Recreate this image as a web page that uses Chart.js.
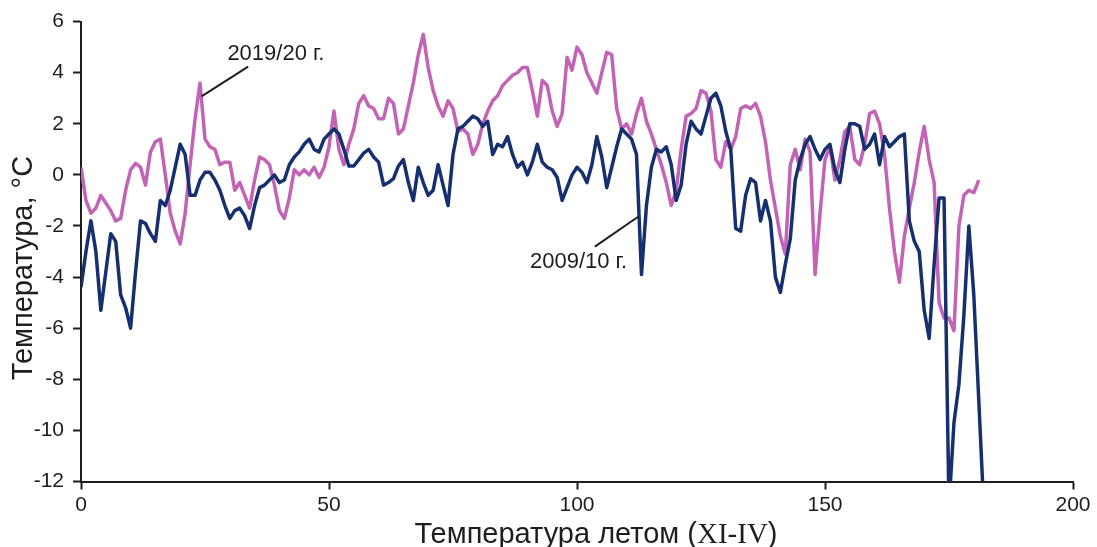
<!DOCTYPE html>
<html>
<head>
<meta charset="utf-8">
<script src="https://cdn.jsdelivr.net/npm/chart.js@4.4.1/dist/chart.umd.min.js"></script>
<style>
  html, body { margin: 0; padding: 0; background: #ffffff; }
  #wrap { width: 1097px; height: 547px; }
</style>
</head>
<body>
<div id="wrap"><canvas id="c" width="1097" height="547"></canvas></div>
<script>
// ---- data ----
const xTicks = [0, 50, 100, 150, 200];
const yTicks = [-12, -10, -8, -6, -4, -2, 0, 2, 4, 6];

const series2009Label = '2009/10 г.';
const series2019Label = '2019/20 г.';

// 2009/10 (navy), one value per day starting at day 0
const navy2009 = [
  -4.4, -3.0, -1.8, -3.0, -5.3, -3.8, -2.3, -2.6, -4.7, -5.2,
  -6.0, -3.8, -1.8, -1.9, -2.3, -2.6, -1.0, -1.2, -0.6, 0.3,
  1.2, 0.8, -0.8, -0.8, -0.2, 0.1, 0.1, -0.2, -0.6, -1.2,
  -1.7, -1.4, -1.3, -1.6, -2.1, -1.2, -0.5, -0.4, -0.2, 0.0,
  -0.3, -0.2, 0.4, 0.7, 0.9, 1.2, 1.4, 1.0, 0.9, 1.4,
  1.6, 1.8, 1.6, 1.0, 0.35, 0.35, 0.6, 0.85, 1.0, 0.7,
  0.5, -0.4, -0.3, -0.15, 0.35, 0.6, -0.3, -1.0, 0.3, -0.3,
  -0.8, -0.6, 0.4, -0.4, -1.2, 0.8, 1.8, 1.9, 2.1, 2.3,
  2.2, 1.9, 2.1, 0.8, 1.2, 1.1, 1.5, 0.8, 0.3, 0.5,
  0.0, 0.5, 1.2, 0.5, 0.3, 0.2, -0.1, -1.0, -0.5, 0.0,
  0.3, 0.1, -0.3, 0.4, 1.5, 0.7, -0.5, 0.3, 1.1, 1.8,
  1.6, 1.4, 0.8, -3.9, -1.2, 0.3, 1.0, 0.9, 1.1, 0.4,
  -1.0, -0.4, 1.2, 2.1, 1.8, 1.6, 2.3, 3.0, 3.2, 2.7,
  1.7, 1.0, -2.1, -2.2, -0.8, -0.15, -0.3, -1.8, -1.0, -1.8,
  -4.0, -4.6, -3.5, -2.5, -0.2, 0.6, 1.2, 1.5, 1.0, 0.6,
  1.0, 1.2, 0.2, -0.3, 1.0, 2.0, 2.0, 1.9, 1.0, 1.2,
  1.6, 0.4, 1.5, 1.1, 1.3, 1.5, 1.6, -1.8, -2.6, -3.0,
  -5.3, -6.4, -3.5, -0.9, -0.9, -13.0, -9.7, -8.2, -5.5, -2.0,
  -4.7, -8.8, -13.0
];

// 2019/20 (magenta), one value per day starting at day 0
const magenta2019 = [
  0.3, -1.0, -1.5, -1.3, -0.8, -1.1, -1.4, -1.8, -1.7, -0.6,
  0.2, 0.45, 0.3, -0.4, 0.9, 1.3, 1.4, 0.0, -1.5, -2.2,
  -2.7, -1.5, 0.4, 2.2, 3.6, 1.4, 1.1, 1.0, 0.4, 0.5,
  0.5, -0.6, -0.3, -0.8, -1.3, -0.2, 0.7, 0.6, 0.4, -0.4,
  -1.4, -1.7, -0.9, 0.2, 0.0, 0.2, 0.0, 0.3, -0.1, 0.3,
  1.1, 2.5, 1.0, 0.4, 1.2, 1.8, 2.8, 3.1, 2.7, 2.6,
  2.2, 2.2, 3.0, 2.8, 1.6, 1.8, 2.7, 3.6, 4.7, 5.5,
  4.2, 3.3, 2.7, 2.3, 2.9, 2.6, 1.7, 1.8, 1.6, 0.8,
  1.2, 2.0, 2.5, 2.9, 3.1, 3.5, 3.7, 3.9, 4.0, 4.2,
  4.2, 3.3, 2.3, 3.7, 3.5, 2.5, 1.9, 2.4, 4.6, 4.1,
  5.0, 4.7, 4.0, 3.6, 3.2, 4.0, 4.8, 4.7, 2.6, 1.8,
  2.0, 1.6, 2.4, 3.0, 2.1, 1.6, 1.0, 0.4, -0.3, -1.2,
  -0.6, 1.0, 2.3, 2.4, 2.6, 3.3, 3.2, 2.5, 0.6, 0.3,
  1.3, 1.0, 1.5, 2.6, 2.7, 2.6, 2.8, 2.3, 1.3, -0.2,
  -1.3, -2.4, -3.1, 0.4, 1.0, 0.2, 1.4, 0.9, -3.9, -1.5,
  0.6, 1.1, -0.2, 0.6, 1.7, 1.9, 0.6, 0.4, 1.2, 2.4,
  2.5, 2.0, 0.8, -1.3, -3.0, -4.2, -2.4, -1.3, -0.3, 0.9,
  1.9, 0.6, -0.3, -5.0, -5.6, -5.6, -6.1, -2.0, -0.8, -0.6,
  -0.7, -0.2
];

// annotation anchors in data units: [day, temperature]
const label2019At = [39.3, 4.5];
const leader2019 = [[33.7, 4.24], [24.3, 3.07]];
const label2009At = [100.3, -3.64];
const leader2009 = [[103.6, -2.81], [112.4, -1.63]];

const xTitleParts = [['Температура летом (', 'sans'], ['XI-IV', 'serif'], [')', 'sans']];
const yTitle = 'Температура, °C';

// ---- drawing ----
const NAVY = '#16306f';
const MAGENTA = '#c263b5';
const INK = '#1e1e1e';
const SANS = '"Liberation Sans", Arial, Helvetica, sans-serif';
const SERIF = '"Liberation Serif", "Times New Roman", serif';

const toPoints = arr => arr.map((v, i) => ({ x: i, y: v }));

const overlayPlugin = {
  id: 'overlay',
  afterDraw(chart) {
    const ctx = chart.ctx;
    const xs = chart.scales.x, ys = chart.scales.y;
    const P = (d) => [xs.getPixelForValue(d[0]), ys.getPixelForValue(d[1])];
    ctx.save();
    ctx.fillStyle = INK;
    ctx.strokeStyle = INK;

    // x axis title (mixed fonts)
    const xSize = 29;
    const fontFor = f => `${xSize}px ${f === 'serif' ? SERIF : SANS}`;
    let total = 0;
    const widths = xTitleParts.map(p => { ctx.font = fontFor(p[1]); const w = ctx.measureText(p[0]).width; total += w; return w; });
    let x = 596 - total / 2;
    ctx.textBaseline = 'alphabetic';
    ctx.textAlign = 'left';
    xTitleParts.forEach((p, i) => { ctx.font = fontFor(p[1]); ctx.fillText(p[0], x, 543); x += widths[i]; });

    // y axis title
    ctx.save();
    ctx.translate(32, 268);
    ctx.rotate(-Math.PI / 2);
    ctx.font = `29px ${SANS}`;
    ctx.textAlign = 'center';
    ctx.fillText(yTitle, 0, 0);
    ctx.restore();

    // series labels with leader lines
    ctx.font = `22px ${SANS}`;
    ctx.textAlign = 'center';
    ctx.textBaseline = 'alphabetic';
    let p = P(label2019At); ctx.fillText(series2019Label, p[0], p[1]);
    p = P(label2009At); ctx.fillText(series2009Label, p[0], p[1]);
    ctx.lineWidth = 2;
    [leader2019, leader2009].forEach(seg => {
      const a = P(seg[0]), b = P(seg[1]);
      ctx.beginPath(); ctx.moveTo(a[0], a[1]); ctx.lineTo(b[0], b[1]); ctx.stroke();
    });
    ctx.restore();
  }
};

const tickFont = { family: SANS, size: 21 };

new Chart(document.getElementById('c'), {
  type: 'line',
  data: {
    datasets: [
      { label: series2019Label, data: toPoints(magenta2019), borderColor: MAGENTA, borderWidth: 3.5, borderJoinStyle: 'round', pointRadius: 0, tension: 0, clip: 0, order: 2 },
      { label: series2009Label, data: toPoints(navy2009), borderColor: NAVY, borderWidth: 3.5, borderJoinStyle: 'round', pointRadius: 0, tension: 0, clip: 0, order: 1 }
    ]
  },
  options: {
    responsive: false,
    animation: false,
    layout: { padding: { top: 21.5, right: 24, left: 0, bottom: 0 } },
    plugins: { legend: { display: false }, tooltip: { enabled: false }, title: { display: false } },
    scales: {
      x: {
        type: 'linear', min: 0, max: 200,
        afterBuildTicks: s => { s.ticks = xTicks.map(v => ({ value: v })); },
        ticks: { font: tickFont, color: INK, padding: 3, maxRotation: 0 },
        grid: { display: true, drawOnChartArea: false, drawTicks: true, tickLength: 8, tickWidth: 2, tickColor: INK },
        border: { display: true, color: INK, width: 2 },
        afterFit: s => { s.height = 65.5; }
      },
      y: {
        type: 'linear', min: -12, max: 6,
        afterBuildTicks: s => { s.ticks = yTicks.map(v => ({ value: v })); },
        ticks: { font: tickFont, color: INK, padding: 9 },
        grid: { display: true, drawOnChartArea: false, drawTicks: true, tickLength: 8, tickWidth: 2, tickColor: INK },
        border: { display: true, color: INK, width: 2 },
        afterFit: s => { s.width = 81; }
      }
    }
  },
  plugins: [overlayPlugin]
});
</script>
</body>
</html>
